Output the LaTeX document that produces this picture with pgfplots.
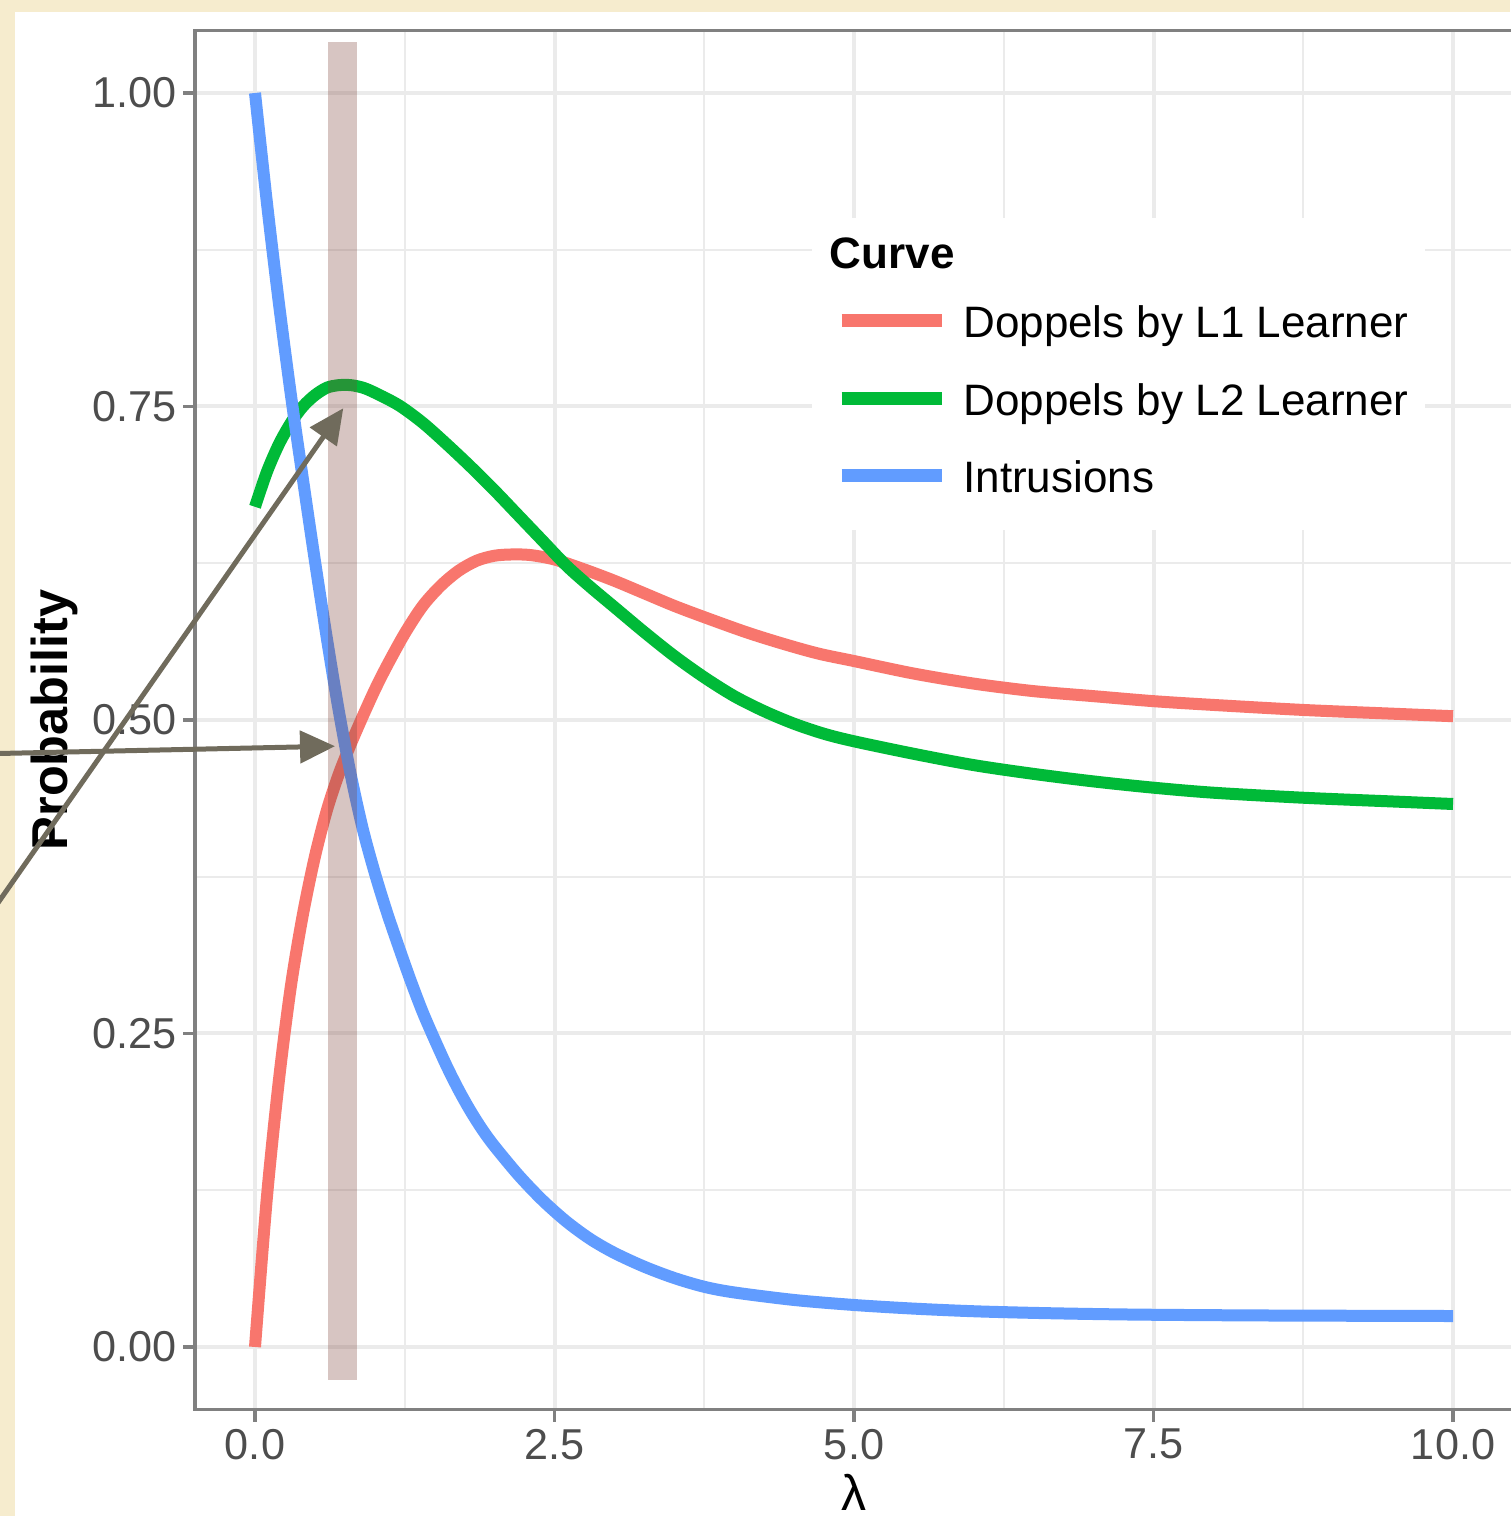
\documentclass[border=0pt]{standalone}
\usepackage{fontspec}
\setmainfont{Liberation Sans}
\usepackage{pgfplots}
\usepackage{pgfplotstable}
\pgfplotsset{compat=1.18}
\usetikzlibrary{arrows.meta}

\definecolor{bgbeige}{RGB}{246,236,206}
\definecolor{cLone}{HTML}{F8766D}
\definecolor{cLtwo}{HTML}{00BA38}
\definecolor{cIntr}{HTML}{619CFF}
\definecolor{bandc}{RGB}{125,65,55}
\definecolor{arrowc}{RGB}{112,107,92}
\definecolor{gridc}{RGB}{235,235,235}
\definecolor{ticklab}{RGB}{77,77,77}

% lambda vs probability
\pgfplotstableread{
lam p
0     0
0.1   0.120
0.2   0.213
0.3   0.288
0.4   0.345
0.5   0.391
0.6   0.428
0.7   0.457
0.8   0.481
0.9   0.503
1.0   0.524
1.1   0.543
1.25  0.569
1.4   0.591
1.55  0.607
1.7   0.619
1.85  0.627
2.0   0.631
2.15  0.632
2.3   0.6315
2.5   0.628
2.75  0.620
3.0   0.611
3.25  0.601
3.5   0.591
3.75  0.582
4.1   0.570
4.4   0.561
4.7   0.553
5.0   0.547
5.5   0.537
6.0   0.529
6.5   0.523
7.0   0.519
7.5   0.515
8.0   0.512
8.75  0.508
9.5   0.505
10    0.503
}\lone

\pgfplotstableread{
lam p
0     0.670
0.1   0.698
0.2   0.720
0.3   0.737
0.4   0.750
0.5   0.759
0.6   0.765
0.7   0.767
0.8   0.767
0.9   0.765
1.0   0.761
1.2   0.751
1.4   0.737
1.6   0.720
1.8   0.702
2.0   0.683
2.2   0.663
2.4   0.643
2.6   0.623
2.8   0.606
3.0   0.590
3.25  0.570
3.5   0.551
3.75  0.534
4.0   0.519
4.25  0.507
4.5   0.497
4.75  0.489
5.0   0.483
5.5   0.473
6.0   0.464
6.5   0.457
7.0   0.451
7.5   0.446
8.0   0.442
8.75  0.438
9.5   0.435
10    0.433
}\ltwo

\pgfplotstableread{
lam p
0     1.0
0.1   0.912
0.2   0.832
0.3   0.759
0.4   0.692
0.5   0.627
0.6   0.565
0.7   0.507
0.8   0.456
0.9   0.413
1.0   0.378
1.1   0.347
1.2   0.319
1.3   0.292
1.4   0.267
1.5   0.245
1.6   0.224
1.7   0.205
1.8   0.188
1.9   0.173
2.0   0.160
2.2   0.137
2.4   0.117
2.6   0.100
2.8   0.086
3.0   0.075
3.25  0.064
3.5   0.055
3.75  0.048
4.0   0.0435
4.5   0.0375
5.0   0.0335
5.5   0.0306
6.0   0.0285
6.5   0.0272
7.0   0.0263
7.5   0.0257
8.5   0.0251
10    0.0247
}\intr

\begin{document}
\begin{tikzpicture}
% page: beige frame, white sheet
\fill[bgbeige] (-48.775pt,-26.575pt) rectangle (328.725pt,352.425pt);
\fill[white] (-45.03pt,-26.575pt) rectangle (328.725pt,349.425pt);

\begin{axis}[
    scale only axis,
    width=329.45pt, height=344.85pt,
    xmin=-0.5, xmax=10.5,
    ymin=-0.05, ymax=1.05,
    clip=false,
    xtick={0,2.5,5,7.5,10},
    xticklabels={0.0,2.5,5.0,7.5,10.0},
    ytick={0,0.25,0.5,0.75,1},
    yticklabels={0.00,0.25,0.50,0.75,1.00},
    minor xtick={1.25,3.75,6.25,8.75},
    minor ytick={0.125,0.375,0.625,0.875},
    grid=both,
    major grid style={gridc, line width=1pt},
    minor grid style={gridc, line width=0.55pt},
    axis line style={black!50, line width=0.8pt},
    tick align=outside,
    major tick length=3pt,
    minor tick length=0pt,
    tick style={black!50, line width=0.8pt},
    xtick pos=bottom, ytick pos=left,
    tick label style={font=\fontsize{10.8}{13}\selectfont, text=ticklab, inner sep=0pt},
    xticklabel style={yshift=-1.6pt},
    yticklabel style={xshift=-1.5pt},
    xlabel={λ},
    ylabel={Probability},
    xlabel style={at={(axis description cs:0.5,-0.0734)}, anchor=base,
        font=\fontsize{12.5}{14}\selectfont},
    ylabel style={at={(axis description cs:-0.0965,0.5)}, anchor=base,
        font=\bfseries\fontsize{12.6}{14}\selectfont},
    legend style={at={(axis description cs:0.48509,0.80109)}, anchor=north west,
        draw=none, fill=none, inner sep=0pt, row sep=9pt, column sep=3.75pt,
        font=\fontsize{11}{13}\selectfont,
        nodes={inner sep=0pt, text height=8pt, text depth=2.4pt},
        cells={anchor=base west}},
    legend image code/.code={\draw[#1, line width=3.2pt] (0pt,4.2pt) -- (25.1pt,4.2pt);},
]

% legend panel background and title
\fill[white] (axis cs:4.649,0.6515) rectangle (axis cs:9.766,0.9003);
\node[anchor=base west, inner sep=0pt, font=\bfseries\fontsize{11}{13}\selectfont]
    at (axis cs:4.791,0.8602) {Curve};

\addplot[cLone, line width=3pt, smooth] table[x=lam, y=p] {\lone};
\addlegendentry{Doppels by L1 Learner}
\addplot[cLtwo, line width=3pt, smooth] table[x=lam, y=p] {\ltwo};
\addlegendentry{Doppels by L2 Learner}
\addplot[cIntr, line width=3pt, smooth] table[x=lam, y=p] {\intr};
\addlegendentry{Intrusions}

% highlighted lambda band
\addplot[fill=bandc, fill opacity=0.3, draw=none, forget plot]
    coordinates {(0.609,-0.0263) (0.851,-0.0263) (0.851,1.0407) (0.609,1.0407)};

\coordinate (a1s) at (axis cs:-2.462,0.4726);
\coordinate (a1e) at (axis cs:0.6678,0.4791);
\coordinate (a2s) at (axis cs:-2.379,0.3222);
\coordinate (a2e) at (axis cs:0.737,0.7486);
\end{axis}

\draw[arrowc, line width=1.25pt, -{Triangle[length=8.75pt,width=8pt]}] (a1s) -- (a1e);
\draw[arrowc, line width=1.25pt, -{Triangle[length=8.75pt,width=8pt]}] (a2s) -- (a2e);

\pgfresetboundingbox
\path[use as bounding box] (-48.775pt,-26.575pt) rectangle (328.725pt,352.425pt);
\end{tikzpicture}
\end{document}
